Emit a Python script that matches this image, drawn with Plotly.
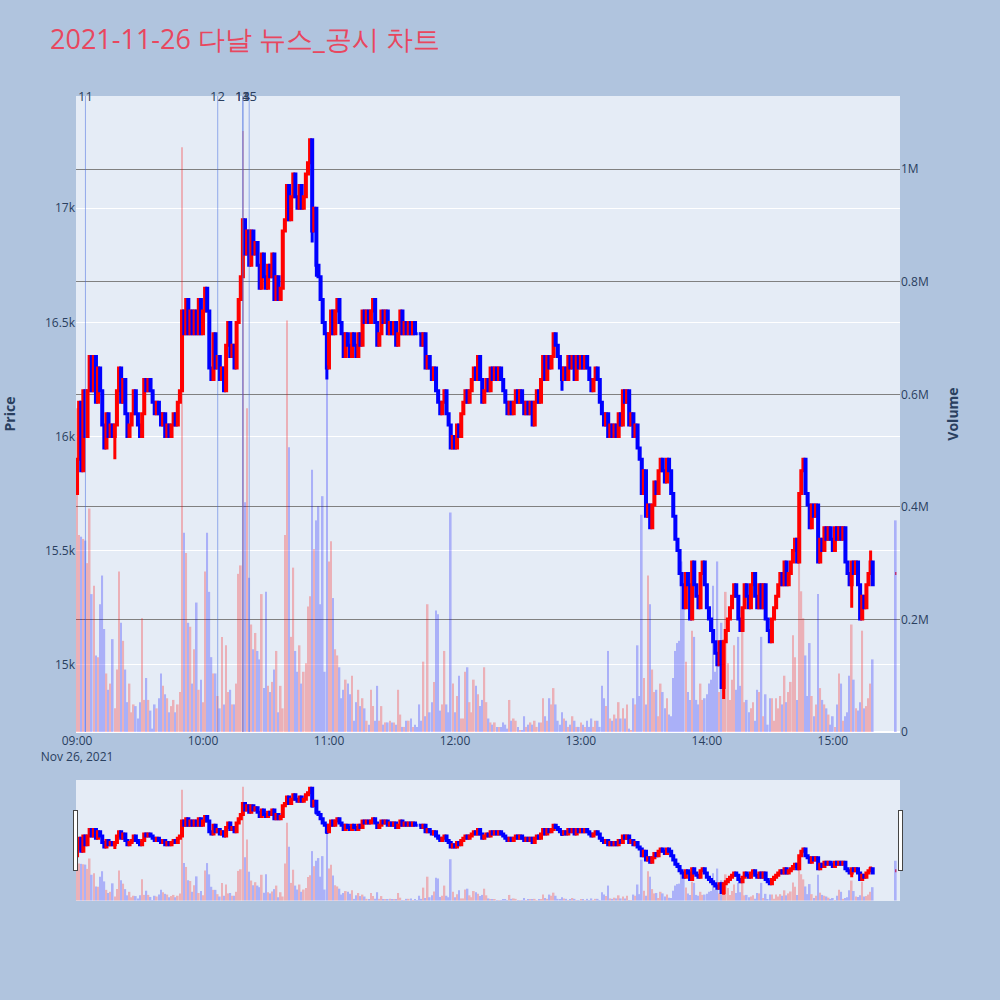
import pandas as pd
import plotly.graph_objects as go
from plotly.subplots import make_subplots

DAY = "2021-11-26"
TITLE = "2021-11-26 다날 뉴스_공시 차트"

# ---- minute closes 09:00 .. 15:19 (KRW) ----
first_open = 15750
closes = [
    15900, 16150, 15850, 16200, 16000, 16200, 16350, 16200, 16350, 16150,
    16300, 16200, 16050, 15950, 16100, 16000, 16050, 16000, 16050, 16200,
    16300, 16150, 16250, 16100, 16000, 16050, 16100, 16200, 16100, 16050,
    16000, 16100, 16250, 16200, 16250, 16200, 16150, 16100, 16150, 16100,
    16050, 16100, 16000, 16050, 16000, 16050, 16100, 16050, 16150, 16200,
    16550, 16450, 16600, 16450, 16550, 16450, 16550, 16450, 16600, 16450,
    16550, 16650, 16550, 16300, 16250, 16450,
    16300, 16350, 16250, 16300, 16200, 16400, 16500, 16350, 16400, 16300,
    16500, 16600, 16700, 16950, 16800, 16900, 16750, 16900, 16800, 16850,
    16750, 16650, 16800, 16700, 16650, 16750, 16700, 16800, 16600, 16700,
    16600, 16650, 16900, 16950, 17100, 16950, 17050, 17150, 17050, 17000,
    17100, 17000, 17050, 17150, 17200, 17300, 16900, 17000, 16750, 16700,
    16600, 16500, 16450, 16300, 16450, 16550, 16450, 16550, 16600, 16500,
    16450, 16350, 16450, 16400, 16350, 16450,
    16400, 16350, 16450, 16400, 16550, 16500, 16550, 16500, 16550, 16600,
    16500, 16400, 16450, 16550, 16500, 16550, 16450, 16500, 16450, 16500,
    16400, 16450, 16550, 16450, 16500, 16450, 16500, 16450, 16500, 16450,
    16450, 16450, 16400, 16450, 16300, 16350, 16300, 16250, 16300, 16200,
    16150, 16100, 16150, 16200, 16100, 16050, 15950, 16000, 15950, 16050,
    16000, 16100, 16150, 16200, 16150, 16200, 16250, 16300, 16250, 16350,
    16250, 16150, 16200, 16250, 16200, 16300,
    16250, 16300, 16250, 16300, 16250, 16200, 16150, 16100, 16150, 16100,
    16150, 16200, 16150, 16200, 16150, 16100, 16150, 16100, 16150, 16050,
    16150, 16200, 16150, 16250, 16350, 16250, 16350, 16300, 16350, 16450,
    16400, 16350, 16300, 16250, 16300, 16250, 16350, 16300, 16350, 16250,
    16350, 16300, 16350, 16300, 16350, 16300, 16250, 16200, 16250, 16300,
    16250, 16150, 16100, 16050, 16100, 16000, 16050, 16000, 16050, 16000,
    16100, 16050, 16200, 16150, 16200,
    16050, 16100, 16000, 16050, 15950, 15900, 15750, 15850, 15650, 15700,
    15600, 15700, 15800, 15750, 15850, 15900, 15850, 15800, 15900, 15850,
    15750, 15650, 15550, 15500, 15400, 15350, 15250, 15400, 15350, 15200,
    15450, 15350, 15300, 15250, 15400, 15450, 15350, 15250, 15200, 15150,
    15100, 15050, 15000, 15100, 14900, 15100, 15150, 15200, 15250, 15300,
    15350, 15300, 15200, 15150, 15250, 15350, 15300, 15250, 15350, 15400,
    15300, 15250, 15350, 15250,
    15350, 15200, 15150, 15100, 15200, 15250, 15300, 15350, 15400, 15350,
    15450, 15350, 15400, 15450, 15500, 15550, 15450, 15750, 15850, 15900,
    15750, 15700, 15600, 15700, 15650, 15700, 15450, 15550, 15500, 15600,
    15550, 15600, 15550, 15500, 15600, 15550, 15600, 15550, 15600, 15450,
    15400, 15350, 15450, 15400, 15450, 15350, 15200, 15300, 15250, 15350,
    15400, 15450, 15350,
]

# ---- minute volumes, thousands of shares ----
volumes_k = [
    575, 350, 347, 343, 340, 300, 397, 245, 260, 136,
    133, 227, 278, 183, 104, 75, 86, 165, 42, 111,
    285, 194, 162, 111, 53, 86, 35, 49, 46, 24,
    53, 202, 57, 96, 57, 38, 6, 49, 42, 60,
    104, 82, 67, 60, 35, 46, 57, 35, 49, 71,
    1039, 354, 318, 194, 187, 86, 147, 230, 75, 93,
    53, 285, 354, 249, 133, 104,
    104, 64, 42, 169, 49, 154, 71, 75, 49, 49,
    86, 281, 296, 1068, 408, 575, 274, 191, 147, 176,
    144, 129, 245, 78, 249, 82, 71, 89, 111, 144,
    35, 82, 42, 350, 731, 506, 169, 292, 144, 107,
    154, 86, 107, 122, 223, 241, 466, 325, 376, 401,
    227, 419, 107, 651, 303, 339, 238, 147, 136, 115,
    60, 75, 93, 86, 67, 100,
    20, 53, 75, 46, 60, 42, 20, 13, 75, 46,
    20, 82, 20, 46, 13, 17, 17, 20, 17, 17,
    13, 75, 31, 9, 9, 20, 20, 24, 9, 13,
    9, 49, 20, 125, 28, 227, 35, 53, 89, 216,
    209, 38, 49, 144, 49, 35, 390, 86, 35, 64,
    100, 24, 24, 107, 115, 53, 35, 93, 82, 67,
    46, 57, 115, 53, 24, 17,
    13, 17, 9, 9, 9, 17, 13, 6, 57, 20,
    24, 20, 9, 2, 2, 28, 9, 13, 17, 13,
    20, 9, 17, 17, 60, 28, 20, 60, 49, 78,
    49, 20, 13, 35, 24, 20, 9, 13, 28, 20,
    9, 9, 17, 13, 9, 20, 9, 24, 9, 20,
    20, 9, 82, 60, 46, 144, 24, 20, 31, 24,
    53, 24, 42, 24, 49,
    6, 2, 60, 49, 154, 64, 386, 96, 49, 278,
    227, 111, 71, 75, 28, 86, 71, 42, 60, 31,
    28, 96, 144, 158, 162, 303, 220, 125, 71, 57,
    180, 169, 57, 49, 86, 57, 60, 67, 86, 93,
    260, 107, 303, 71, 194, 165, 249, 122, 57, 93,
    154, 75, 169, 82, 191, 53, 57, 35, 42, 53,
    20, 75, 71, 169,
    28, 67, 13, 60, 60, 20, 60, 42, 64, 49,
    100, 53, 71, 89, 172, 133, 57, 332, 250, 202,
    136, 64, 158, 64, 28, 49, 245, 78, 57, 49,
    42, 31, 13, 28, 9, 49, 104, 86, 20, 28,
    35, 100, 191, 93, 42, 38, 53, 180, 42, 46,
    60, 86, 129,
]

# closing single-price auction at 15:30
auction_price = 15400
auction_volume_k = 376

# visible wicks beyond the bodies (minute index -> price)
low_wicks = {18: 15900, 112: 16850, 114: 16700, 119: 16250, 231: 16200, 308: 14850, 369: 15250}
high_wicks = {378: 15500}

# news / disclosure markers
news_labels = ["11", "12", "13", "14", "15"]
news_times = ["09:04", "10:07", "10:19", "10:19", "10:22"]

assert len(closes) == 380, len(closes)
assert len(volumes_k) == 380, len(volumes_k)

times = list(pd.date_range(f"{DAY} 09:00", periods=len(closes), freq="min"))
times.append(pd.Timestamp(f"{DAY} 15:30"))
opens = [first_open] + closes[:-1] + [auction_price]
cl = closes + [auction_price]
highs = [max(o, c) for o, c in zip(opens, cl)]
lows = [min(o, c) for o, c in zip(opens, cl)]
for i, v in low_wicks.items():
    lows[i] = min(lows[i], v)
for i, v in high_wicks.items():
    highs[i] = max(highs[i], v)
vols = [v * 1000 for v in volumes_k] + [auction_volume_k * 1000]
vol_colors = ["red" if c > o else "blue" for o, c in zip(opens, cl)]

fig = make_subplots(specs=[[{"secondary_y": True}]])
fig.add_trace(
    go.Candlestick(
        x=times, open=opens, high=highs, low=lows, close=cl,
        increasing=dict(line=dict(color="red", width=3), fillcolor="red"),
        decreasing=dict(line=dict(color="blue", width=3), fillcolor="blue"),
        showlegend=False, name="Price",
    ),
    secondary_y=False,
)
fig.add_trace(
    go.Bar(x=times, y=vols, marker=dict(color=vol_colors, line=dict(width=0)),
           opacity=0.25, showlegend=False, name="Volume"),
    secondary_y=True,
)

for lab, t in zip(news_labels, news_times):
    ts = f"{DAY} {t}:00"
    fig.add_shape(type="line", xref="x", yref="paper", x0=ts, x1=ts, y0=0, y1=1,
                  line=dict(color="royalblue", width=1), opacity=0.5)
    fig.add_annotation(x=ts, y=1, xref="x", yref="paper", text=lab, showarrow=False,
                       xanchor="center", yanchor="middle",
                       font=dict(size=13, color="#2a3f5f"))

fig.update_layout(
    width=1000, height=1000,
    paper_bgcolor="lightsteelblue",
    plot_bgcolor="#E5ECF6",
    margin=dict(l=76, r=100, t=96, b=100),
    title=dict(text=TITLE, x=0.05, xanchor="left", y=0.96, yanchor="middle",
               font=dict(size=27, color="#E8475F")),
    showlegend=False,
    bargap=0.2,
)
fig.update_xaxes(
    type="date",
    domain=[0, 1],
    automargin=False,
    range=[f"{DAY} 08:59:30", f"{DAY} 15:32:00"],
    dtick=3600000,
    rangeslider=dict(visible=True, thickness=0.15, bgcolor="#E5ECF6",
                     range=[f"{DAY} 08:59:30", f"{DAY} 15:32:00"]),
)
fig.update_yaxes(title_text="<b>Price</b>", title_standoff=26, range=[14705, 17492],
                 secondary_y=False, automargin=False, showgrid=True, gridcolor="white")
fig.update_yaxes(title_text="<b>Volume</b>", title_standoff=20, range=[0, 1130000],
                 secondary_y=True, automargin=False, showgrid=True, gridcolor="gray")

fig.write_html("out.html", config={"displayModeBar": False},
               post_script="document.body.style.margin='0';")
